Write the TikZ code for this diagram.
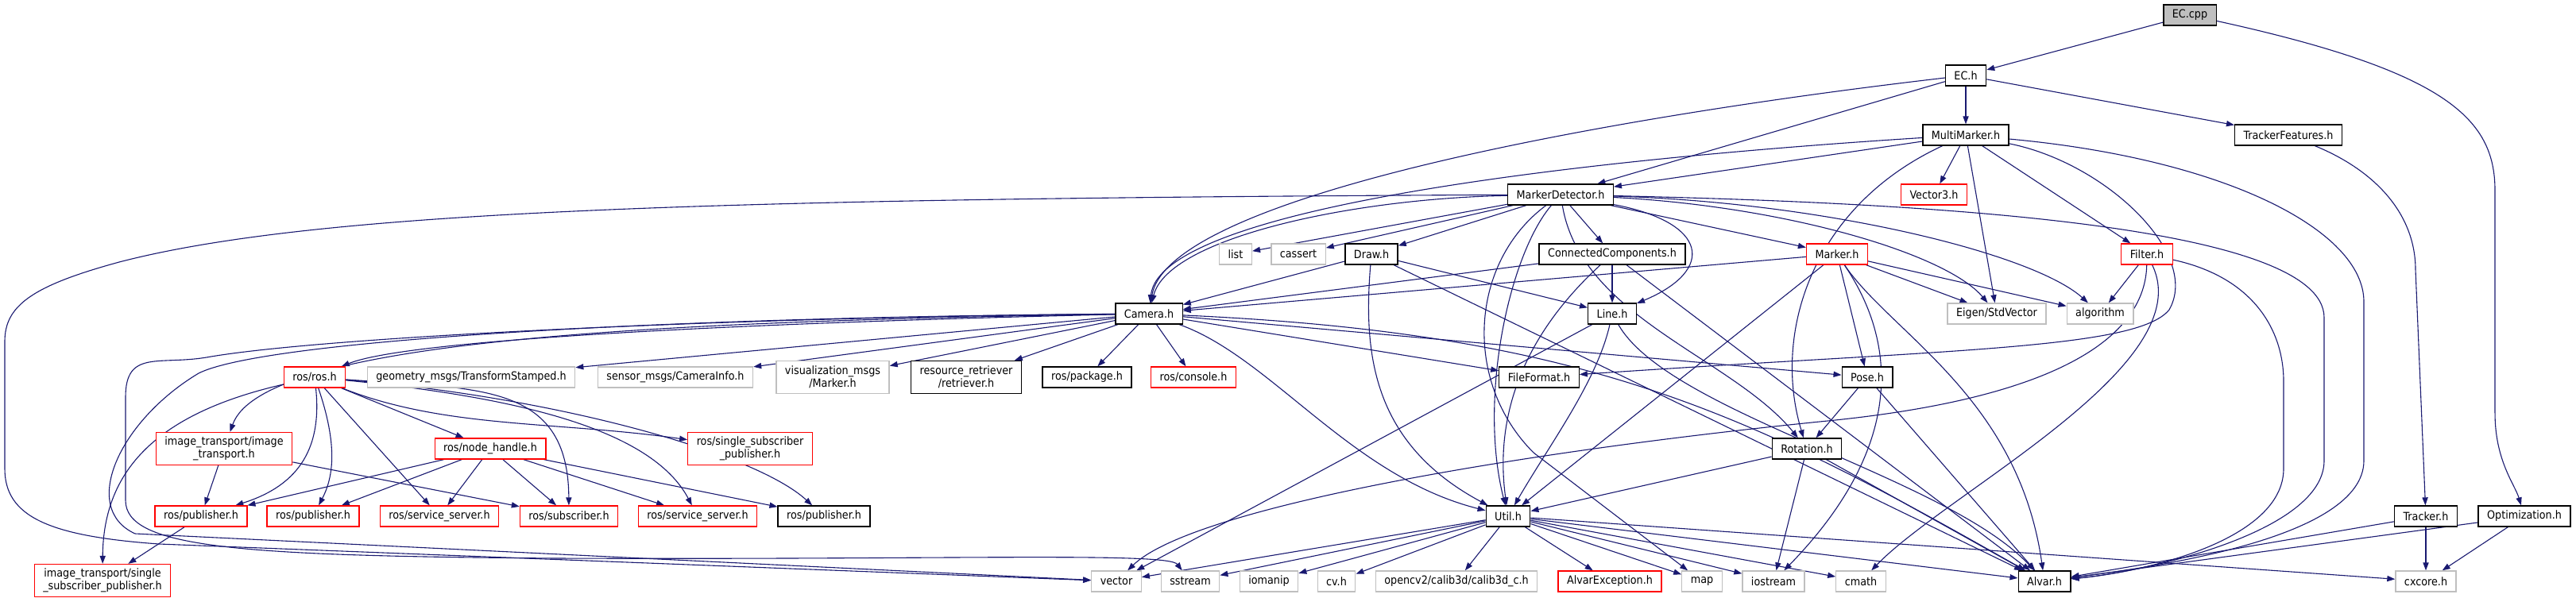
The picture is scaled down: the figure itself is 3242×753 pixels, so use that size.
\documentclass[tikz,border=0pt]{standalone}
\usepackage{fontspec}
\setmainfont{DejaVu Sans Condensed}
\usetikzlibrary{arrows.meta, backgrounds}
\definecolor{edgeblue}{HTML}{191970}
\definecolor{extgray}{HTML}{BFBFBF}
\tikzset{
  font=\fontsize{7.1}{8.2}\selectfont,
  % Set arrowhead
  >={Triangle[length=5pt,width=3.6pt]},
  % General file node
  file/.style={draw=black, line width=0.65pt, fill=white, shape=rectangle,
    minimum height=13pt, inner xsep=5.5pt, inner ysep=1pt, align=center},
  % Two line file node
  file2/.style={minimum height=20.5pt},
  % Root file
  rootfile/.style={file, fill=extgray},
  % Header with no graph of its own
  rfile/.style={file, draw=red},
  % System header
  xfile/.style={file, draw=extgray},
  % Include arrow
  inc/.style={->, draw=edgeblue, line width=0.55pt},
}

\begin{document}
\begin{tikzpicture}[x=0.5pt, y=-0.5pt]
  \useasboundingbox (0,0) rectangle (3242,753);

  \node[rootfile] (eccpp) at (2756,19) {EC.cpp};
  \node[file] (ech) at (2474,95) {EC.h};
  \node[file] (multi) at (2474,170) {MultiMarker.h};
  \node[file] (trackf) at (2880,170) {TrackerFeatures.h};
  \node[file] (mdet) at (1964,245) {MarkerDetector.h};
  \node[rfile] (vecthree) at (2434,245) {Vector3.h};
  \node[xfile] (list) at (1555,320) {list};
  \node[xfile] (cassert) at (1634,320) {cassert};
  \node[file] (draw) at (1726,320) {Draw.h};
  \node[file] (conncomp) at (2029,320) {ConnectedComponents.h};
  \node[rfile] (marker) at (2312,320) {Marker.h};
  \node[rfile] (filter) at (2702,320) {Filter.h};
  \node[file] (camera) at (1446,395) {Camera.h};
  \node[file] (line) at (2029,395) {Line.h};
  \node[xfile] (eigen) at (2513,395) {Eigen/StdVector};
  \node[xfile] (algorithm) at (2643,395) {algorithm};
  \node[rfile] (rosros) at (396,475) {ros/ros.h};
  \node[xfile] (geometry) at (593,475) {geometry\_msgs/TransformStamped.h};
  \node[xfile] (sensor) at (850,475) {sensor\_msgs/CameraInfo.h};
  \node[xfile, file2] (vizmarker) at (1048,475) {visualization\_msgs\\/Marker.h};
  \node[file, file2] (retriever) at (1216,475) {resource\_retriever\\/retriever.h};
  \node[file] (package) at (1368,475) {ros/package.h};
  \node[rfile] (console) at (1502,475) {ros/console.h};
  \node[file] (fileformat) at (1937,475) {FileFormat.h};
  \node[file] (pose) at (2350,475) {Pose.h};
  \node[rfile, file2] (imgtransport) at (282,565) {image\_transport/image\\\_transport.h};
  \node[rfile] (nodehandle) at (617,565) {ros/node\_handle.h};
  \node[rfile, file2] (singlesub) at (944,565) {ros/single\_subscriber\\\_publisher.h};
  \node[file] (rotation) at (2274,565) {Rotation.h};
  \node[rfile] (pubA) at (253,650) {ros/publisher.h};
  \node[rfile] (pubB) at (394,650) {ros/publisher.h};
  \node[rfile] (srvA) at (553,650) {ros/service\_server.h};
  \node[rfile] (subscr) at (716,650) {ros/subscriber.h};
  \node[rfile] (srvB) at (878,650) {ros/service\_server.h};
  \node[file] (pubC) at (1037,650) {ros/publisher.h};
  \node[file] (util) at (1898,650) {Util.h};
  \node[file] (tracker) at (3053,650) {Tracker.h};
  \node[file] (optim) at (3177,650) {Optimization.h};
  \node[rfile, file2] (imgsingle) at (129,731) {image\_transport/single\\\_subscriber\_publisher.h};
  \node[xfile] (vector) at (1405,732) {vector};
  \node[xfile] (sstream) at (1498,732) {sstream};
  \node[xfile] (iomanip) at (1597,732) {iomanip};
  \node[xfile] (cvh) at (1682,732) {cv.h};
  \node[xfile] (opencv) at (1833,732) {opencv2/calib3d/calib3d\_c.h};
  \node[rfile] (alvarexc) at (2026,732) {AlvarException.h};
  \node[xfile] (map) at (2142,732) {map};
  \node[xfile] (iostream) at (2232,732) {iostream};
  \node[xfile] (cmath) at (2342,732) {cmath};
  \node[file] (alvar) at (2573,732) {Alvar.h};
  \node[xfile] (cxcore) at (3053,732) {cxcore.h};

  \begin{scope}[on background layer]
  % EC.cpp
  \draw[inc] (eccpp) -- (ech);
  \draw[inc] (eccpp) .. controls (3080,90) and (3140,150) .. (3140,240) -- (3140,520) .. controls (3140,580) and (3165,610) .. (optim);
  % EC.h
  \draw[inc] (ech) -- (multi);
  \draw[inc] (ech) -- (trackf);
  \draw[inc] (ech) -- (mdet);
  \draw[inc] (ech) .. controls (2000,150) and (1470,250) .. (camera);
  % MultiMarker.h
  \draw[inc] (multi) -- (mdet);
  \draw[inc] (multi) .. controls (2000,200) and (1460,260) .. (camera);
  \draw[inc] (multi) -- (vecthree);
  \draw[inc] (multi) -- (eigen);
  \draw[inc] (multi) -- (filter);
  \draw[inc] (multi) .. controls (2280,260) and (2230,420) .. (rotation);
  \draw[inc] (multi) .. controls (2650,205) and (2770,320) .. (2730,390) .. controls (2690,440) and (2450,440) .. (fileformat);
  \draw[inc] (multi) .. controls (2800,200) and (2975,290) .. (2975,380) -- (2975,580) .. controls (2975,680) and (2700,715) .. (alvar);
  % TrackerFeatures.h
  \draw[inc] (trackf) .. controls (2990,215) and (3040,270) .. (3040,340) -- (tracker);
  % MarkerDetector.h
  \draw[inc] (mdet) -- (list);
  \draw[inc] (mdet) -- (cassert);
  \draw[inc] (mdet) -- (draw);
  \draw[inc] (mdet) -- (conncomp);
  \draw[inc] (mdet) -- (marker);
  \draw[inc] (mdet) .. controls (2150,280) and (2160,340) .. (line);
  \draw[inc] (mdet) .. controls (1700,250) and (1470,300) .. (camera);
  \draw[inc] (mdet) .. controls (2250,260) and (2450,320) .. (eigen);
  \draw[inc] (mdet) .. controls (2300,255) and (2560,320) .. (algorithm);
  \draw[inc] (mdet) .. controls (2400,255) and (2925,280) .. (2925,400) -- (2925,580) .. controls (2925,670) and (2700,720) .. (alvar);
  \draw[inc] (mdet) .. controls (1900,320) and (1860,500) .. (util);
  \draw[inc] (mdet) .. controls (1990,400) and (2180,450) .. (rotation);
  \draw[inc] (mdet) .. controls (1850,330) and (1840,480) .. (1930,570) -- (map);
  \draw[inc] (mdet) .. controls (900,250) and (400,265) .. (150,330) .. controls (40,360) and (6,385) .. (6,430) -- (6,590) .. controls (6,650) and (60,675) .. (200,685) -- (vector);
  % Draw.h
  \draw[inc] (draw) -- (camera);
  \draw[inc] (draw) -- (line);
  \draw[inc] (draw) .. controls (1715,450) and (1730,560) .. (util);
  \draw[inc] (draw) -- (alvar);
  % ConnectedComponents.h
  \draw[inc] (conncomp) -- (camera);
  \draw[inc] (conncomp) -- (line);
  \draw[inc] (conncomp) .. controls (1920,420) and (1880,520) .. (util);
  \draw[inc] (conncomp) -- (alvar);
  % Marker.h
  \draw[inc] (marker) -- (camera);
  \draw[inc] (marker) -- (util);
  \draw[inc] (marker) -- (eigen);
  \draw[inc] (marker) -- (algorithm);
  \draw[inc] (marker) -- (pose);
  \draw[inc] (marker) .. controls (2380,420) and (2540,500) .. (alvar);
  \draw[inc] (marker) .. controls (2400,450) and (2380,580) .. (iostream);
  % Filter.h
  \draw[inc] (filter) -- (algorithm);
  \draw[inc] (filter) .. controls (2840,350) and (2874,420) .. (2874,480) -- (2874,590) .. controls (2874,680) and (2700,720) .. (alvar);
  \draw[inc] (filter) .. controls (2770,460) and (2450,620) .. (cmath);
  \draw[inc] (filter) .. controls (2700,420) and (2600,500) .. (2300,530) .. controls (1900,570) and (1500,640) .. (vector);
  % Camera.h
  \draw[inc] (camera) .. controls (1000,405) and (520,425) .. (rosros);
  \draw[inc] (camera) -- (geometry);
  \draw[inc] (camera) -- (sensor);
  \draw[inc] (camera) -- (vizmarker);
  \draw[inc] (camera) -- (retriever);
  \draw[inc] (camera) -- (package);
  \draw[inc] (camera) -- (console);
  \draw[inc] (camera) .. controls (800,405) and (330,430) .. (imgtransport);
  \draw[inc] (camera) .. controls (1600,450) and (1700,600) .. (util);
  \draw[inc] (camera) -- (fileformat);
  \draw[inc] (camera) -- (pose);
  \draw[inc] (camera) .. controls (2000,420) and (2200,520) .. (alvar);
  \draw[inc] (camera) .. controls (800,400) and (330,430) .. (250,470) .. controls (150,530) and (100,640) .. (170,672) -- (vector);
  \draw[inc] (camera) .. controls (900,400) and (400,425) .. (260,450) .. controls (200,460) and (158,440) .. (158,500) -- (158,630) .. controls (158,690) and (300,700) .. (700,703) .. controls (1200,705) and (1470,695) .. (sstream);
  % ros/ros.h
  \draw[inc] (rosros) .. controls (200,520) and (130,590) .. (imgsingle);
  \draw[inc] (rosros) .. controls (405,560) and (380,610) .. (pubA);
  \draw[inc] (rosros) .. controls (425,560) and (420,600) .. (pubB);
  \draw[inc] (rosros) -- (srvA);
  \draw[inc] (rosros) -- (nodehandle);
  \draw[inc] (rosros) .. controls (600,490) and (715,480) .. (subscr);
  \draw[inc] (rosros) .. controls (650,500) and (820,540) .. (srvB);
  \draw[inc] (rosros) .. controls (560,540) and (700,530) .. (singlesub);
  \draw[inc] (rosros) .. controls (700,500) and (950,570) .. (pubC);
  % image_transport/image_transport.h
  \draw[inc] (imgtransport) -- (pubA);
  \draw[inc] (imgtransport) -- (subscr);
  % ros/node_handle.h
  \draw[inc] (nodehandle) -- (pubA);
  \draw[inc] (nodehandle) -- (pubB);
  \draw[inc] (nodehandle) -- (srvA);
  \draw[inc] (nodehandle) -- (subscr);
  \draw[inc] (nodehandle) -- (srvB);
  \draw[inc] (nodehandle) -- (pubC);
  % ros/publisher.h
  \draw[inc] (pubA) -- (imgsingle);
  % Line.h
  \draw[inc] (line) .. controls (2010,480) and (1950,560) .. (util);
  \draw[inc] (line) .. controls (2100,520) and (2450,600) .. (alvar);
  \draw[inc] (line) -- (vector);
  % Pose.h
  \draw[inc] (pose) -- (rotation);
  \draw[inc] (pose) -- (alvar);
  % Rotation.h
  \draw[inc] (rotation) -- (util);
  \draw[inc] (rotation) -- (alvar);
  \draw[inc] (rotation) -- (iostream);
  % Util.h
  \draw[inc] (util) -- (vector);
  \draw[inc] (util) -- (sstream);
  \draw[inc] (util) -- (iomanip);
  \draw[inc] (util) -- (cvh);
  \draw[inc] (util) -- (opencv);
  \draw[inc] (util) -- (alvarexc);
  \draw[inc] (util) -- (map);
  \draw[inc] (util) -- (iostream);
  \draw[inc] (util) -- (cmath);
  \draw[inc] (util) -- (alvar);
  \draw[inc] (util) -- (cxcore);
  % Tracker.h and Optimization.h
  \draw[inc] (tracker) -- (alvar);
  \draw[inc] (tracker) -- (cxcore);
  \draw[inc] (optim) -- (alvar);
  \draw[inc] (optim) -- (cxcore);
  \end{scope}
\end{tikzpicture}
\end{document}
